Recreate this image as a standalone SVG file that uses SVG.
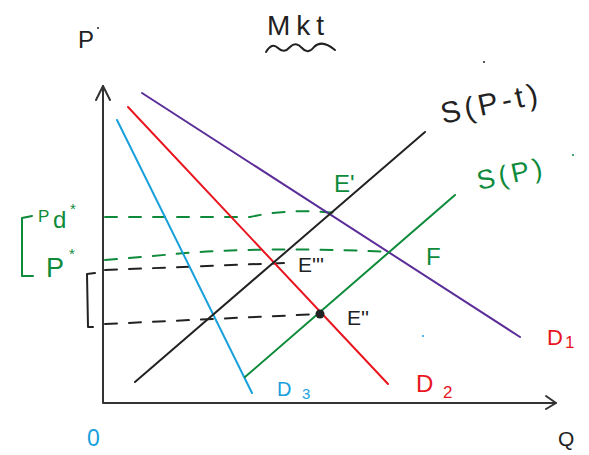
<svg xmlns="http://www.w3.org/2000/svg" width="589" height="455" viewBox="0 0 589 455">
<style>
.ln{fill:none;stroke-width:2;stroke-linecap:round;stroke-linejoin:round}
.ax{stroke:#333}
.k{stroke:#222}.g{stroke:#0d8a3a}.r{stroke:#e8141e}.b{stroke:#17a0dc}.p{stroke:#5a2d98}
.d{stroke-dasharray:12 12}
text{font-family:"Liberation Sans",Arial,sans-serif}
.tk{fill:#222}.tg{fill:#0d8a3a}.tr{fill:#e8141e}.tb{fill:#17a0dc}
</style>
<rect width="589" height="455" fill="#fff"/>
<g id="axes">
<path class="ln ax" d="M103,86 L103,403 L556,403"/>
<path class="ln ax" d="M96,100 L103,86 L110,100"/>
<path class="ln ax" d="M546,396 L556,403 L546,409"/>
</g>
<g id="connectors">
<path class="ln g d" d="M105,217 L250,217 Q290,208 337,213"/>
<path class="ln g d" d="M105,260 L175,254 Q260,246 392,252"/>
<path class="ln k d" d="M105,270 L284,263"/>
<path class="ln k d" d="M105,324 L320,314"/>
</g>
<g id="D1"><path class="ln p" d="M142,93 L520,337"/><text class="tr" x="547" y="345" font-size="22">D</text><text class="tr" x="565" y="348" font-size="17">1</text></g>
<g id="D2"><path class="ln r" d="M128,107 L388,384"/><text class="tr" x="416" y="392" font-size="24">D</text><text class="tr" x="443" y="398" font-size="17">2</text></g>
<g id="D3"><path class="ln b" d="M117,120 L252,393"/><text class="tb" x="277" y="396" font-size="20">D</text><text class="tb" x="302" y="399" font-size="15">3</text></g>
<g id="S_Pt"><path class="ln k" d="M135,382 L425,132"/><text class="tk" x="443" y="124" font-size="30" letter-spacing="4" transform="rotate(-12 443 124)">S(P-t)</text><circle cx="484" cy="62" r="1" fill="#222"/></g>
<g id="S_P"><path class="ln g" d="M245,377 L455,195"/><text class="tg" x="479" y="190" font-size="27" letter-spacing="4" transform="rotate(-12 479 190)">S(P)</text></g>
<g id="E1"><text class="tg" x="334" y="192" font-size="24">E'</text></g>
<g id="F"><text class="tg" x="426" y="265" font-size="24">F</text></g>
<g id="E3"><text class="tk" x="298" y="272" font-size="21">E'''</text></g>
<g id="E2"><circle cx="320" cy="314" r="4.5" fill="#222"/><text class="tk" x="347" y="325" font-size="21">E''</text></g>
<g id="labels">
<text class="tk" x="78" y="48" font-size="24">P</text>
<circle cx="98" cy="28" r="1" fill="#222"/>
<text class="tk" x="267" y="35" font-size="28" letter-spacing="6">Mkt</text>
<path class="ln k" d="M266,52 Q272,42 278,48 Q284,54 290,47 Q296,41 302,48 Q308,55 314,47 Q322,39 335,50"/>
<text class="tb" x="87" y="446" font-size="23">0</text>
<text class="tk" x="558" y="446" font-size="21">Q</text>
<circle cx="423" cy="336" r="1" fill="#17a0dc"/>
<circle cx="573" cy="155" r="1" fill="#0d8a3a"/>
</g>
<g id="brackets">
<path class="ln g" d="M32,216 L22,218 L22,276 L33,276"/>
<text class="tg" x="38" y="222" font-size="17">P</text>
<text class="tg" x="53" y="228" font-size="24">d</text>
<text class="tg" x="70" y="214" font-size="15">*</text>
<text class="tg" x="46" y="277" font-size="27">P</text>
<text class="tg" x="69" y="259" font-size="15">*</text>
<path class="ln k" d="M95,273 L87,274 L88,327 L93,327"/>
</g>
</svg>
